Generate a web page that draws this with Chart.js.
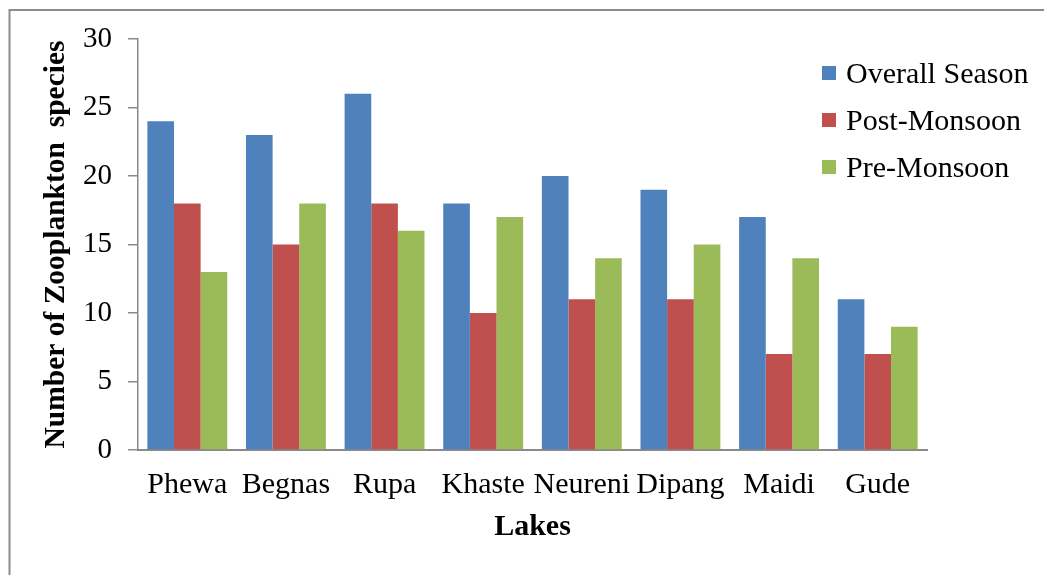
<!DOCTYPE html>
<html>
<head>
<meta charset="utf-8">
<script src="https://cdn.jsdelivr.net/npm/chart.js@4/dist/chart.umd.min.js"></script>
<style>
  html, body { margin: 0; padding: 0; background: #ffffff; }
  #wrap { position: relative; width: 1044px; height: 575px; }
</style>
</head>
<body>
<div id="wrap"><canvas id="c" width="1044" height="575"></canvas></div>
<script>
// Zooplankton species counts per lake and season
const lakes = ['Phewa', 'Begnas', 'Rupa', 'Khaste', 'Neureni', 'Dipang', 'Maidi', 'Gude'];
const overallSeason = [24, 23, 26, 18, 20, 19, 17, 11];
const postMonsoon   = [18, 15, 18, 10, 11, 11, 7, 7];
const preMonsoon    = [13, 18, 16, 17, 14, 15, 14, 9];
const seriesNames   = ['Overall Season', 'Post-Monsoon', 'Pre-Monsoon'];
const seriesColors  = ['#4F81BD', '#C0504D', '#9BBB59'];

const FONT = "'Liberation Serif', 'Times New Roman', serif";
const AXIS_GREY = '#8a8a8a';

// Frame lines along the top and left edges of the figure
const framePlugin = {
  id: 'frame',
  beforeDraw(chart) {
    const ctx = chart.ctx;
    ctx.save();
    ctx.fillStyle = '#ffffff';
    ctx.fillRect(0, 0, chart.width, chart.height);
    ctx.strokeStyle = '#8c8c8c';
    ctx.lineWidth = 2;
    ctx.beginPath();
    ctx.moveTo(9.5, chart.height);
    ctx.lineTo(9.5, 10);
    ctx.lineTo(chart.width, 10);
    ctx.stroke();
    ctx.restore();
  }
};

// Legend drawn on the right, overlapping the plot's upper-right corner
const sideLegendPlugin = {
  id: 'sideLegend',
  afterDraw(chart) {
    const ctx = chart.ctx;
    ctx.save();
    ctx.font = '30px ' + FONT;
    ctx.textBaseline = 'alphabetic';
    ctx.textAlign = 'left';
    chart.data.datasets.forEach((ds, i) => {
      const baseY = 83 + i * 47;
      ctx.fillStyle = ds.backgroundColor;
      ctx.fillRect(822, baseY - 17, 14, 14);
      ctx.fillStyle = '#000000';
      ctx.fillText(ds.label, 846, baseY);
    });
    ctx.restore();
  }
};

new Chart(document.getElementById('c'), {
  type: 'bar',
  data: {
    labels: lakes,
    datasets: [
      { label: seriesNames[0], data: overallSeason, backgroundColor: seriesColors[0] },
      { label: seriesNames[1], data: postMonsoon,   backgroundColor: seriesColors[1] },
      { label: seriesNames[2], data: preMonsoon,    backgroundColor: seriesColors[2] }
    ]
  },
  options: {
    responsive: false,
    animation: false,
    devicePixelRatio: 1,
    layout: { padding: { left: 0, right: 117, top: 39, bottom: 0 } },
    datasets: {
      bar: { categoryPercentage: 0.81, barPercentage: 1.0, borderWidth: 0 }
    },
    plugins: {
      legend: { display: false },
      tooltip: { enabled: false }
    },
    scales: {
      x: {
        grid: { display: true, drawOnChartArea: false, drawTicks: false },
        border: { display: true, color: AXIS_GREY, width: 2 },
        ticks: { color: '#000000', font: { family: FONT, size: 30 }, padding: 17, maxRotation: 0, autoSkip: false },
        title: {
          display: true, text: 'Lakes', color: '#000000',
          font: { family: FONT, size: 30, weight: 'bold', lineHeight: 1 },
          padding: { top: 0, bottom: 33 }
        },
        afterFit(scale) { scale.height = 125; }
      },
      y: {
        min: 0, max: 30,
        ticks: { stepSize: 5, color: '#000000', font: { family: FONT, size: 29 }, padding: 16 },
        grid: { display: true, drawOnChartArea: false, drawTicks: true, tickLength: 10, color: AXIS_GREY, lineWidth: 1.5 },
        border: { display: true, color: AXIS_GREY, width: 1.5 },
        title: {
          display: true, text: 'Number of Zooplankton  species', color: '#000000',
          font: { family: FONT, size: 29.5, weight: 'bold', lineHeight: 1 },
          padding: { top: 42, bottom: 0 }
        },
        afterFit(scale) { scale.width = 138; }
      }
    }
  },
  plugins: [framePlugin, sideLegendPlugin]
});
</script>
</body>
</html>
